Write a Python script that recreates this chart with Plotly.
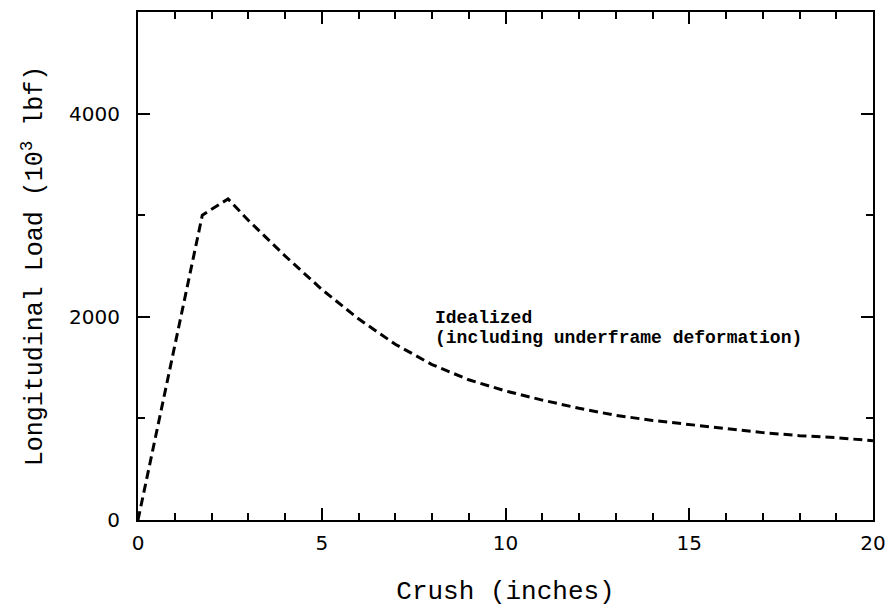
import plotly.graph_objects as go

crush = [0, 1.75, 2.45, 3, 4, 5, 6, 7, 8, 9, 10, 11, 12, 13, 14, 15, 16, 17, 18, 19, 20]
load = [0, 3000, 3160, 2950, 2600, 2270, 1980, 1730, 1530, 1380, 1270, 1180, 1100, 1030, 980, 940, 900, 860, 830, 810, 780]

x_ticks = [0, 5, 10, 15, 20]
y_ticks = [0, 2000, 4000]

label_lines = ["Idealized", "(including underframe deformation)"]
label_x = 8.03
label_y = [1990, 1790]

fig = go.Figure()
fig.add_trace(go.Scatter(
    x=crush, y=load, mode="lines",
    line=dict(color="black", width=3, dash="9px,5px"),
    showlegend=False, hoverinfo="skip",
))

for txt, yy in zip(label_lines, label_y):
    fig.add_annotation(
        x=label_x, y=yy, xref="x", yref="y",
        text="<b>" + txt + "</b>",
        showarrow=False, xanchor="left", yanchor="middle", align="left",
        font=dict(family="Liberation Mono", size=18, color="black"),
    )

axis_common = dict(
    showgrid=False, zeroline=False, showline=True, linecolor="black", linewidth=2,
    mirror="ticks", ticks="inside", ticklen=12, tickwidth=2, tickcolor="black",
    tickfont=dict(family="DejaVu Sans", size=20, color="black"),
)

fig.update_xaxes(
    range=[0, 20], tickvals=x_ticks, ticktext=[str(v) for v in x_ticks],
    ticklabelstandoff=4,
    minor=dict(dtick=1, ticks="inside", ticklen=7, tickwidth=1.5, tickcolor="black"),
    title=dict(text="Crush (inches)", font=dict(family="Liberation Mono", size=26, color="black"), standoff=27),
    **axis_common,
)
fig.update_yaxes(
    range=[0, 5000], tickvals=y_ticks, ticktext=[str(v) for v in y_ticks],
    ticklabelstandoff=12,
    minor=dict(dtick=1000, ticks="inside", ticklen=7, tickwidth=1.5, tickcolor="black"),
    title=dict(text="Longitudinal Load (10<sup>3</sup> lbf)", font=dict(family="Liberation Mono", size=25, color="black"), standoff=19),
    **axis_common,
)

fig.update_layout(
    width=896, height=610,
    margin=dict(l=138, r=18, t=10, b=83),
    paper_bgcolor="white", plot_bgcolor="white",
)

fig.write_html("out.html", config={"displayModeBar": False},
               post_script="document.body.style.margin='0px';")
